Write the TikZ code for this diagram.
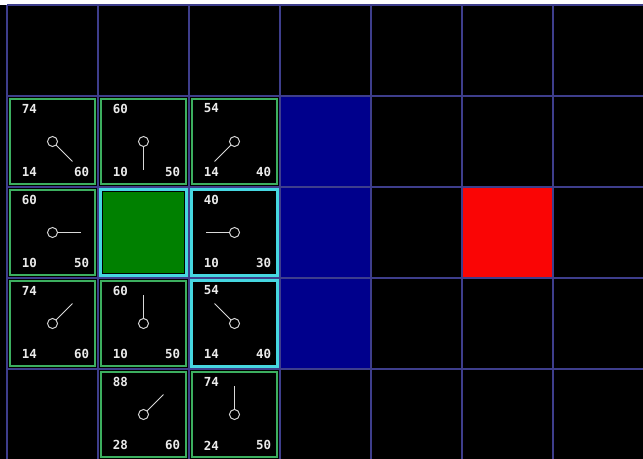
\documentclass[tikz,border=0pt]{standalone}
\usepackage{fontspec}
\newfontfamily\pixfont{DejaVu Sans Mono}

\definecolor{gridblue}{RGB}{62,62,140}
\definecolor{wallblue}{RGB}{0,0,140}
\definecolor{openline}{RGB}{60,175,95}
\definecolor{closedline}{RGB}{70,215,225}
\definecolor{startgreen}{RGB}{0,128,0}
\definecolor{goalred}{RGB}{250,5,5}

\begin{document}
\begin{tikzpicture}[
    every node/.style={font=\pixfont\bfseries\fontsize{3.9}{4}\selectfont, text=white!92!black, inner sep=0pt},
    gridline/.style={draw=gridblue, line width=0.55pt},
    openbox/.style={draw=openline, line width=0.6pt},
    closedbox/.style={draw=closedline, line width=0.9pt},
    pointer/.style={draw=white!85!black, line width=0.3pt}
]

% ---------- page and background ----------
\useasboundingbox[fill=white] (-0.077,0.055) rectangle (6.989,-4.989);
\fill[black] (-0.077,0) rectangle (6.989,-4.989);

% walls and goal
\fill[wallblue] (3,-1) rectangle (4,-4);
\fill[goalred] (5,-2) rectangle (6,-3);

% grid
\foreach \x in {0,...,6}{
    \draw[gridline] (\x,0) -- (\x,-5);
}
\foreach \y in {0,...,4}{
    \draw[gridline] (0,-\y) -- (7,-\y);
}

% ---------- macro for one scored cell ----------
% #1 = column, #2 = row
% #3 = F, #4 = G, #5 = H
% #6 = direction of parent (degrees)
% #7 = box style
\newcommand{\scorecell}[7]{
  \begin{scope}[shift={(#1+0.5,-#2-0.5)}]
    \draw[#7] (-0.47,0.47) rectangle (0.47,-0.47);
    % scores
    \node[anchor=west] (f#1#2) at (-0.345,0.363) {#3};
    \node[anchor=west] (g#1#2) at (-0.345,-0.34) {#4};
    \node[anchor=east] (h#1#2) at (0.41,-0.34) {#5};
    % parent pointer
    \draw[pointer] (0,0) circle (0.055);
    \draw[pointer] (#6:0.055) -- (#6:0.31);
  \end{scope}
}

% ---------- start cell ----------
\fill[startgreen] (1.05,-2.05) rectangle (1.95,-2.95);
\draw[closedbox] (1.03,-2.03) rectangle (1.97,-2.97);

% ---------- scored cells ----------
\scorecell{0}{1}{74}{14}{60}{-45}{openbox}
\scorecell{1}{1}{60}{10}{50}{-90}{openbox}
\scorecell{2}{1}{54}{14}{40}{-135}{openbox}
\scorecell{0}{2}{60}{10}{50}{0}{openbox}
\scorecell{2}{2}{40}{10}{30}{180}{closedbox}
\scorecell{0}{3}{74}{14}{60}{45}{openbox}
\scorecell{1}{3}{60}{10}{50}{90}{openbox}
\scorecell{2}{3}{54}{14}{40}{135}{closedbox}
\scorecell{1}{4}{88}{28}{60}{45}{openbox}
\scorecell{2}{4}{74}{24}{50}{90}{openbox}

\end{tikzpicture}
\end{document}
